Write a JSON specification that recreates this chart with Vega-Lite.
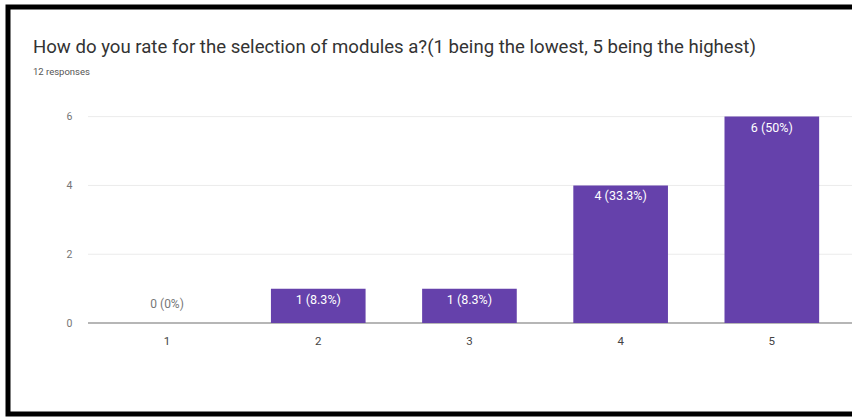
{
  "$schema": "https://vega.github.io/schema/vega-lite/v6.json",
  "width": 844,
  "height": 407,
  "autosize": {"type": "none"},
  "padding": {"left": 8, "top": 7, "right": 0, "bottom": 3},
  "background": "white",
  "title": {
    "text": "How do you rate for the selection of modules a?(1 being the lowest, 5 being the highest)",
    "subtitle": "12 responses",
    "anchor": "start",
    "frame": "group",
    "orient": "top",
    "offset": -69,
    "dx": 25,
    "font": "Roboto",
    "fontSize": 18.6,
    "fontWeight": "normal",
    "color": "#333333",
    "subtitleFont": "Roboto",
    "subtitleFontSize": 9.5,
    "subtitleColor": "#555555",
    "subtitlePadding": 10
  },
  "datasets": {
    "bars": [
      {"rating": "1", "count": 0, "label": "0 (0%)"},
      {"rating": "2", "count": 1, "label": "1 (8.3%)"},
      {"rating": "3", "count": 1, "label": "1 (8.3%)"},
      {"rating": "4", "count": 4, "label": "4 (33.3%)"},
      {"rating": "5", "count": 6, "label": "6 (50%)"}
    ],
    "grid": [{"g": 0}, {"g": 2}, {"g": 4}, {"g": 6}]
  },
  "layer": [
    {
      "data": {"name": "grid"},
      "mark": {"type": "rule"},
      "encoding": {
        "x": {"datum": "1", "bandPosition": -0.3355},
        "x2": {"datum": "5", "bandPosition": 1.347},
        "y": {"field": "g", "type": "quantitative"},
        "color": {"condition": {"test": "datum.g === 0", "value": "#9e9e9e"}, "value": "#ebebeb"},
        "strokeWidth": {"condition": {"test": "datum.g === 0", "value": 1.5}, "value": 1}
      }
    },
    {
      "data": {"name": "bars"},
      "mark": {"type": "bar", "color": "#6541ab"},
      "encoding": {"y2": {"datum": 0}}
    },
    {
      "data": {"name": "bars"},
      "transform": [{"filter": "datum.count > 0"}],
      "mark": {"type": "text", "baseline": "top", "dy": 5, "color": "white", "font": "Roboto", "fontSize": 12.5},
      "encoding": {"text": {"field": "label"}}
    },
    {
      "data": {"name": "bars"},
      "transform": [{"filter": "datum.count == 0"}],
      "mark": {"type": "text", "baseline": "bottom", "dy": -12, "color": "#777777", "font": "Roboto", "fontSize": 12},
      "encoding": {"text": {"field": "label"}}
    }
  ],
  "encoding": {
    "x": {
      "field": "rating",
      "type": "nominal",
      "sort": null,
      "scale": {"domain": ["1", "2", "3", "4", "5"], "paddingInner": 0.374, "paddingOuter": 0.4782, "align": 0.7728},
      "axis": {
        "orient": "bottom",
        "offset": -91,
        "domain": false,
        "ticks": false,
        "grid": false,
        "labelPadding": 12,
        "labelAngle": 0,
        "title": null,
        "labelFont": "Roboto",
        "labelFontSize": 11.5,
        "labelColor": "#444444"
      }
    },
    "y": {
      "field": "count",
      "type": "quantitative",
      "scale": {"domain": [-2.643, 9.186], "nice": false, "zero": false},
      "axis": {
        "values": [0, 2, 4, 6],
        "offset": -80,
        "domain": false,
        "ticks": false,
        "grid": false,
        "labelPadding": 16,
        "title": null,
        "labelFont": "Roboto",
        "labelFontSize": 10.5,
        "labelColor": "#757575"
      }
    }
  },
  "config": {"view": {"stroke": "black", "strokeWidth": 5, "strokeDash": [2095, 407], "strokeDashOffset": 1251}}
}
